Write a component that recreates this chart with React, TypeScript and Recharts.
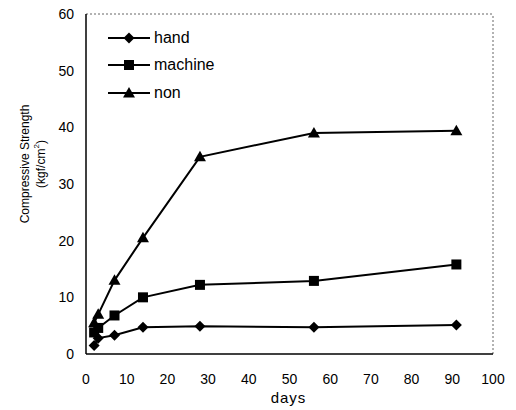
import { LineChart, Line, XAxis, YAxis, Legend, ReferenceLine } from "recharts";

// curing age (days) and compressive strength for each mixing method
const days = [2, 3, 7, 14, 28, 56, 91];
const hand = [1.5, 2.8, 3.3, 4.7, 4.9, 4.7, 5.1];
const machine = [3.8, 4.6, 6.8, 10, 12.2, 12.9, 15.8];
const non = [5.5, 7, 13, 20.5, 34.8, 39, 39.4];

const xTicks = [0, 10, 20, 30, 40, 50, 60, 70, 80, 90, 100];
const yTicks = [0, 10, 20, 30, 40, 50, 60];

const data = days.map((d, i) => ({
  day: d,
  hand: hand[i],
  machine: machine[i],
  non: non[i],
}));

const FONT = '"Liberation Sans", Arial, Helvetica, sans-serif';

const Diamond = ({ cx, cy }: any) => (
  <path d={`M${cx},${cy - 5.5}L${cx + 5.5},${cy}L${cx},${cy + 5.5}L${cx - 5.5},${cy}Z`} fill="#000" />
);
const Square = ({ cx, cy }: any) => (
  <rect x={cx - 5} y={cy - 5} width={10} height={10} fill="#000" />
);
const Triangle = ({ cx, cy }: any) => (
  <path d={`M${cx},${cy - 6}L${cx + 6},${cy + 4.5}L${cx - 6},${cy + 4.5}Z`} fill="#000" />
);

const series = [
  { key: "hand", Shape: Diamond },
  { key: "machine", Shape: Square },
  { key: "non", Shape: Triangle },
];

const LegendBox = () => (
  <div style={{ fontFamily: FONT, fontSize: 16, color: "#000" }}>
    {series.map(({ key, Shape }) => (
      <div key={key} style={{ display: "flex", alignItems: "center", height: 27.5 }}>
        <svg width={46} height={16}>
          <line x1={2} y1={8} x2={44} y2={8} stroke="#000" strokeWidth={2} />
          <Shape cx={23} cy={8} />
        </svg>
        <span style={{ marginLeft: 2, lineHeight: "16px" }}>{key}</span>
      </div>
    ))}
  </div>
);

const YLabel = ({ viewBox }: any) => {
  const cy = viewBox.y + viewBox.height / 2 - 20;
  return (
    <g fontFamily={FONT} fontSize={12} fill="#000">
      <text x={25} y={cy} transform={`rotate(-90 25 ${cy})`} textAnchor="middle" dominantBaseline="central">
        Compressive Strength
      </text>
      <text x={41} y={cy} transform={`rotate(-90 41 ${cy})`} textAnchor="middle" dominantBaseline="central">
        (kgf/cm<tspan baselineShift="super" fontSize={8}>2</tspan>)
      </text>
    </g>
  );
};

const XLabel = ({ viewBox }: any) => (
  <text
    x={viewBox.x + viewBox.width / 2 - 1}
    y={397}
    textAnchor="middle"
    dominantBaseline="central"
    fontFamily={FONT}
    fontSize={15}
    letterSpacing={1}
    fill="#000"
  >
    days
  </text>
);

export default function App() {
  return (
    <div style={{ position: "absolute", left: 0, top: 0, width: 516, height: 410, background: "#fff" }}>
      <LineChart width={516} height={410} data={data} margin={{ top: 14, right: 23, bottom: 0, left: 0 }}>
        <XAxis
          dataKey="day"
          type="number"
          domain={[0, 100]}
          ticks={xTicks}
          height={56}
          tickLine={false}
          tickMargin={14}
          axisLine={{ stroke: "#000", strokeWidth: 1.5 }}
          tick={{ fill: "#000", fontSize: 14, fontFamily: FONT }}
          label={<XLabel />}
        />
        <YAxis
          type="number"
          domain={[0, 60]}
          ticks={yTicks}
          width={86}
          tickLine={false}
          tickMargin={6}
          axisLine={{ stroke: "#000", strokeWidth: 1.5 }}
          tick={{ fill: "#000", fontSize: 14, fontFamily: FONT }}
          label={<YLabel />}
        />
        <ReferenceLine y={60} stroke="#666" strokeDasharray="2 2" />
        <ReferenceLine x={100} stroke="#666" strokeDasharray="2 2" />
        <Legend
          layout="horizontal"
          verticalAlign="middle"
          align="center"
          content={<LegendBox />}
          wrapperStyle={{ position: "absolute", left: 106, top: 24, width: "auto" }}
        />
        {series.map(({ key, Shape }) => (
          <Line
            key={key}
            type="linear"
            dataKey={key}
            stroke="#000"
            strokeWidth={2}
            dot={(p: any) => <Shape key={`${key}-${p.index}`} cx={p.cx} cy={p.cy} />}
            activeDot={false}
            isAnimationActive={false}
            legendType="none"
          />
        ))}
      </LineChart>
    </div>
  );
}
